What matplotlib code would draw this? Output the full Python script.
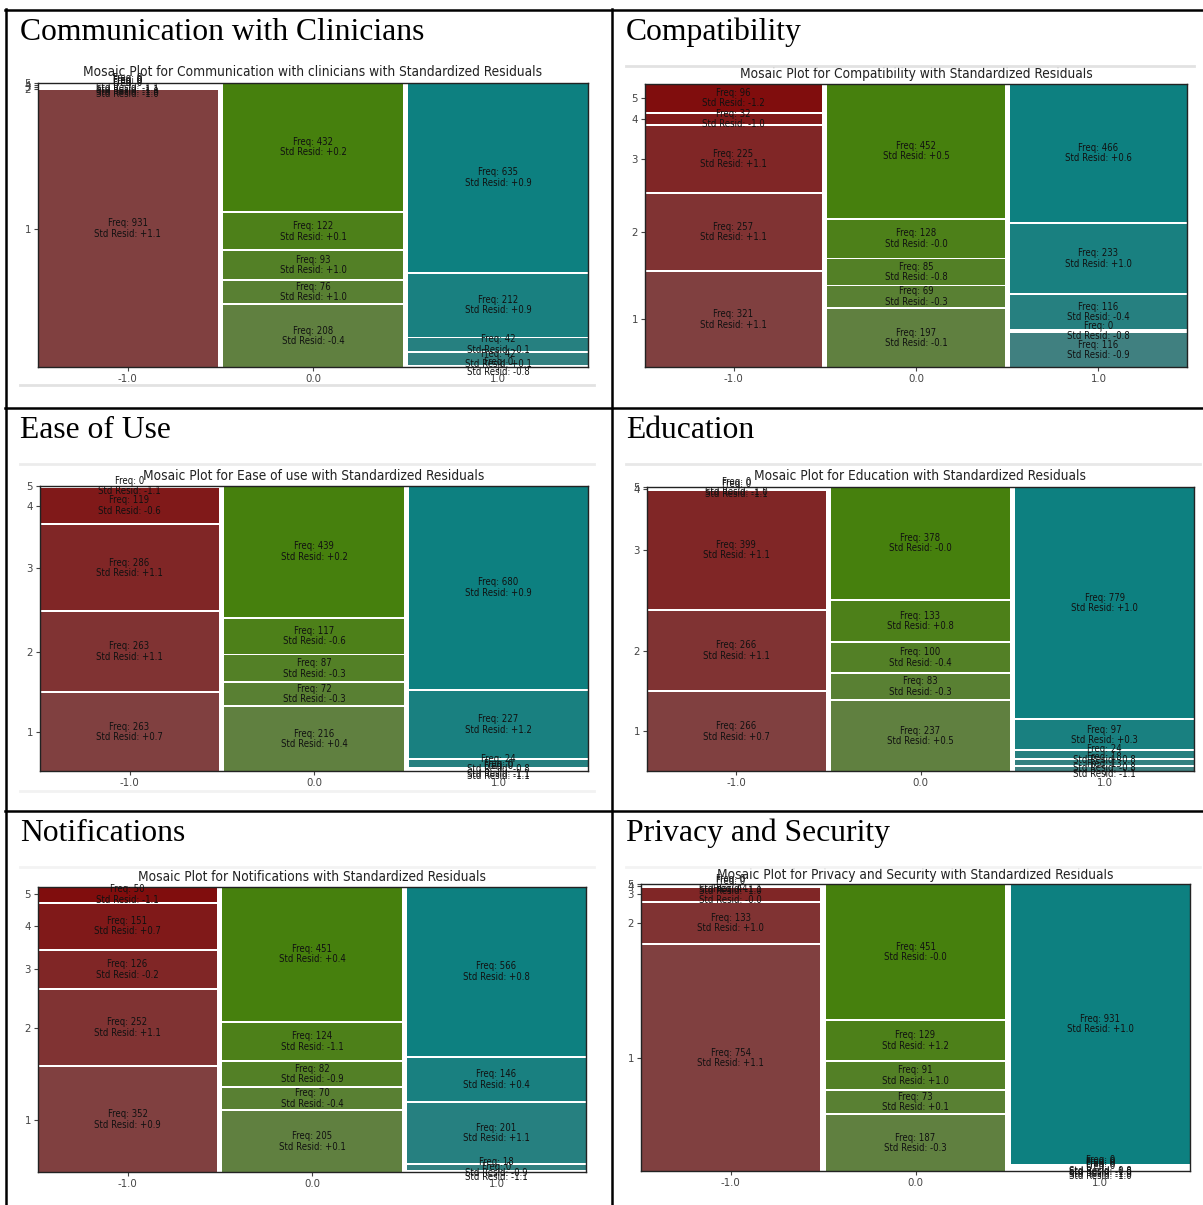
import numpy as np
import matplotlib
matplotlib.use('Agg')
import matplotlib.pyplot as plt
from matplotlib.patches import Rectangle
from matplotlib.lines import Line2D
from matplotlib.colors import hsv_to_rgb
from matplotlib import font_manager

# 数据：每个面板三列（-1.0 / 0.0 / 1.0），每列 5 个等级（1..5，自下而上）
x_labels = ['-1.0', '0.0', '1.0']
y_labels = ['1', '2', '3', '4', '5']

headers = ['Communication with Clinicians', 'Compatibility', 'Ease of Use',
           'Education', 'Notifications', 'Privacy and Security']
titles = ['Communication with clinicians', 'Compatibility', 'Ease of use',
          'Education', 'Notifications', 'Privacy and Security']

comm_freq = [[931, 0, 0, 0, 0], [208, 76, 93, 122, 432], [0, 42, 42, 212, 635]]
comm_resid = [[1.1, -1.0, -1.0, -1.1, -1.1], [-0.4, 1.0, 1.0, 0.1, 0.2], [-0.8, 0.1, -0.1, 0.9, 0.9]]

compat_freq = [[321, 257, 225, 32, 96], [197, 69, 85, 128, 452], [116, 0, 116, 233, 466]]
compat_resid = [[1.1, 1.1, 1.1, -1.0, -1.2], [-0.1, -0.3, -0.8, -0.0, 0.5], [-0.9, -0.8, -0.4, 1.0, 0.6]]

ease_freq = [[263, 263, 286, 119, 0], [216, 72, 87, 117, 439], [0, 0, 24, 227, 680]]
ease_resid = [[0.7, 1.1, 1.1, -0.6, -1.1], [0.4, -0.3, -0.3, -0.6, 0.2], [-1.1, -1.1, -0.8, 1.2, 0.9]]

edu_freq = [[266, 266, 399, 0, 0], [237, 83, 100, 133, 378], [13, 18, 24, 97, 779]]
edu_resid = [[0.7, 1.1, 1.1, -1.1, -1.0], [0.5, -0.3, -0.4, 0.8, -0.0], [-1.1, -0.8, -0.8, 0.3, 1.0]]

notif_freq = [[352, 252, 126, 151, 50], [205, 70, 82, 124, 451], [0, 18, 201, 146, 566]]
notif_resid = [[0.9, 1.1, -0.2, 0.7, -1.1], [0.1, -0.4, -0.9, -1.1, 0.4], [-1.1, -0.9, 1.1, 0.4, 0.8]]

priv_freq = [[754, 133, 44, 0, 0], [187, 73, 91, 129, 451], [0, 0, 0, 0, 931]]
priv_resid = [[1.1, 1.0, -0.0, -1.0, -1.1], [-0.3, 0.1, 1.0, 1.2, -0.0], [-1.0, -1.0, -1.0, -0.8, 1.0]]

W, H = 1203, 1205

# 截图在表格里的位置（像素）：axes 左、上、右、下
panels = [
    (comm_freq, comm_resid, (38, 83, 588, 367), (20, 40), 72),
    (compat_freq, compat_resid, (645, 84, 1187, 367), (626, 40), 74),
    (ease_freq, ease_resid, (40, 486, 588, 771), (20, 438.5), 476),
    (edu_freq, edu_resid, (647, 487, 1194, 771), (626, 438.5), 476),
    (notif_freq, notif_resid, (38, 887, 586, 1172), (20, 841), 877),
    (priv_freq, priv_resid, (641, 884, 1190, 1171), (626, 841), 875),
]
# 截图边缘的浅灰线 (y, x0, x1, 颜色)
shot_edges = [(385, 20, 594, '#e2e2e2'), (66, 626, 1194, '#e2e2e2'),
              (464, 20, 594, '#ececec'), (791, 20, 594, '#f2f2f2'),
              (464, 626, 1200, '#e8e8e8'), (867, 20, 594, '#f3f3f3'),
              (867, 626, 1200, '#f3f3f3')]

names = {f.name for f in font_manager.fontManager.ttflist}
cond = any(f.name == 'DejaVu Sans' and f.stretch == 'condensed'
           for f in font_manager.fontManager.ttflist)
if 'Liberation Sans Narrow' in names:
    sans, stretch, k = 'Liberation Sans Narrow', 'normal', 1.0
elif cond:
    sans, stretch, k = 'DejaVu Sans', 'condensed', 0.82
else:
    sans, stretch, k = 'DejaVu Sans', 'normal', 0.74


def split(values, gap):
    # 和 statsmodels mosaic 一样的切分方式
    p = np.cumsum([0] + list(values)) / float(sum(values))
    start = p[:-1].copy()
    amp = p[1:] - p[:-1]
    start += gap * np.arange(len(values))
    ext = start[-1] + amp[-1] - start[0]
    return start / ext, amp / ext


def mosaic(ax, freq, resid, title, title_y, gap=0.01):
    hues = np.linspace(0.0, 1.0, len(freq) + 2)[:-2]
    sats = np.linspace(0.5, 1.0, len(freq[0]) + 1)[:-1]
    xs, ws = split([sum(c) for c in freq], gap)
    yticks = None
    for i, col in enumerate(freq):
        ys, hs = split(col, gap / 1.5)
        if yticks is None:
            yticks = ys + hs / 2
        for j in range(len(col)):
            color = hsv_to_rgb([hues[i], sats[j], 0.5])
            ax.add_patch(Rectangle((xs[i], ys[j]), ws[i], hs[j], color=color, lw=0))
            ax.text(xs[i] + ws[i] / 2, ys[j] + hs[j] / 2,
                    'Freq: %d\nStd Resid: %+.1f' % (col[j], resid[i][j]),
                    ha='center', va='center', fontsize=8.4 * k, family=sans,
                    fontstretch=stretch, color='#111111', linespacing=1.05,
                    clip_on=False)
    ax.set_xlim(0, 1)
    ax.set_ylim(0, 1)
    ax.set_xticks(xs + ws / 2)
    ax.set_xticklabels(x_labels)
    ax.set_yticks(yticks)
    ax.set_yticklabels(y_labels)
    ax.tick_params(labelsize=10 * k, colors='#444444', length=3, width=0.8, pad=2)
    for lab in ax.get_xticklabels() + ax.get_yticklabels():
        lab.set_family(sans)
        lab.set_fontstretch(stretch)
    for s in ax.spines.values():
        s.set_color('#222222')
        s.set_linewidth(1.0)
    ax.text(0.5, title_y, 'Mosaic Plot for %s with Standardized Residuals' % title,
            transform=ax.transAxes, ha='center', va='center',
            fontsize=12 * k, family=sans, fontstretch=stretch, color='#222222')


fig = plt.figure(figsize=(W / 100, H / 100), dpi=100)

# 表格线
for x in (5.5, 612):
    fig.add_artist(Line2D([x / W, x / W], [1 - 9 / H, 0], color='black', lw=1.8))
for y in (9.5, 408, 811):
    fig.add_artist(Line2D([5 / W, 1], [1 - y / H, 1 - y / H], color='black', lw=1.8))
for y, x0, x1, c in shot_edges:
    fig.add_artist(Line2D([x0 / W, x1 / W], [1 - y / H, 1 - y / H], color=c, lw=2))

for n, (freq, resid, (l, t, r, b), (hx, hy), ty) in enumerate(panels):
    fig.text(hx / W, 1 - hy / H, headers[n], family='Liberation Serif', fontsize=22.8,
             va='baseline', ha='left', color='black')
    ax = fig.add_axes([l / W, 1 - b / H, (r - l) / W, (b - t) / H])
    mosaic(ax, freq, resid, titles[n], 1 + (t - ty) / float(b - t))

plt.savefig('out.png', dpi=100)
